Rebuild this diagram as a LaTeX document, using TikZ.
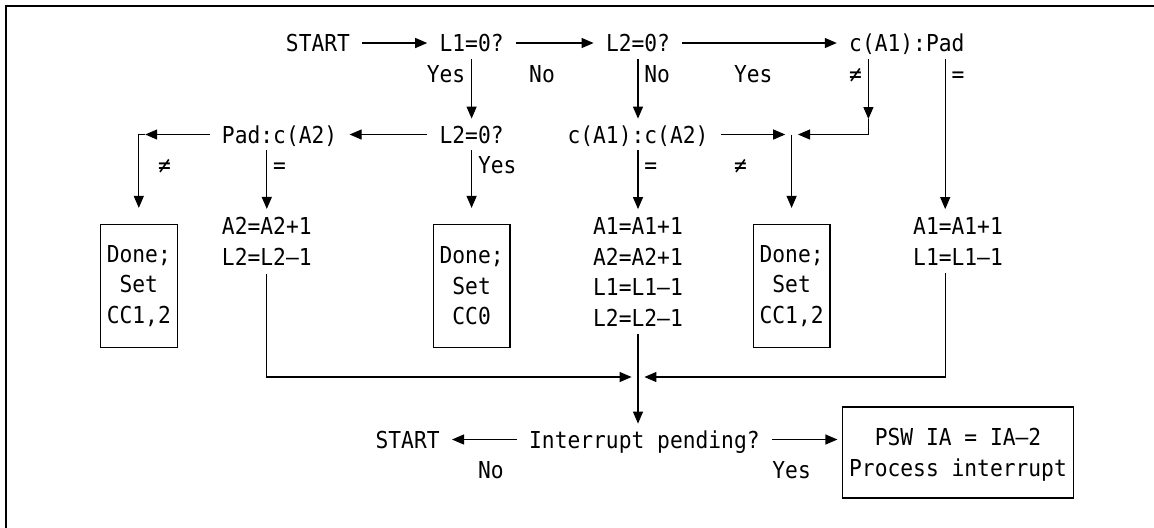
\documentclass[tikz,border=0pt]{standalone}
\usepackage{fontspec}
\newfontfamily\ibmmono[FakeStretch=0.912]{DejaVu Sans Mono}
\usetikzlibrary{arrows.meta}

\tikzset{
  every node/.style={font=\ibmmono\fontsize{11.66}{15.25}\selectfont},
  txt/.style={inner xsep=6pt, inner ysep=1pt, text height=11pt, text depth=2.5pt},
  lbl/.style={inner sep=0pt, text height=11pt, text depth=2.5pt},
  blk/.style={align=center, inner xsep=6pt, inner ysep=4pt},
  donebox/.style={draw, line width=0.6pt, align=center, minimum width=38.4pt, minimum height=61.5pt, inner sep=0pt},
  pswbox/.style={draw, line width=0.6pt, align=center, minimum width=115.2pt, minimum height=45.5pt, inner sep=0pt},
  arr/.style={-{Triangle[length=6pt,width=5pt]}, line width=0.6pt},
}

\begin{document}
\begin{tikzpicture}[x=0.5pt, y=-0.5pt]
        \useasboundingbox (0,0) rectangle (1154,527);
        % frame
        \draw[line width=1pt] (6,540) -- (6,6) -- (1170,6);

        % top row
        \node[txt] (start1) at (318,43) {START};
        \node[txt] (l1) at (471.6,43) {L1=0?};
        \node[txt] (l2a) at (638,43) {L2=0?};
        \node[txt] (cpad) at (906.8,43) {c(A1):Pad};

        % second row
        \node[txt] (padc) at (279.6,134.5) {Pad:c(A2)};
        \node[txt] (l2b) at (471.6,134.5) {L2=0?};
        \node[txt] (cc) at (638,134.5) {c(A1):c(A2)};

        % results
        \node[donebox] (done1) at (138.8,286) {Done;\\Set\\CC1,2};
        \node[blk] (inc2) at (266.8,241.25) {A2=A2+1\\L2=L2–1};
        \node[donebox] (done2) at (471.6,286) {Done;\\Set\\CC0};
        \node[blk] (inc12) at (638,271.75) {A1=A1+1\\A2=A2+1\\L1=L1–1\\L2=L2–1};
        \node[donebox] (done3) at (791.6,286) {Done;\\Set\\CC1,2};
        \node[blk] (inc1) at (958,241.25) {A1=A1+1\\L1=L1–1};

        % bottom row
        \node[txt] (start2) at (407.6,439.5) {START};
        \node[txt] (intr) at (644.4,439.5) {Interrupt pending?};
        \node[pswbox] (psw) at (958,452.5) {PSW IA = IA–2\\\smash{Process interrupt}};

        % branch points
        \coordinate (cNe) at (868.4,119);
        \coordinate (cEq) at (945.2,43);
        \coordinate (j1) at (791.6,134.5);
        \coordinate (nw) at (145.2,134.5);
        \coordinate (m1) at (638,377);

        % labels
        \node[lbl] at (446,73.5) {Yes};
        \node[lbl] at (542,73.5) {No};
        \node[lbl] at (657.2,73.5) {No};
        \node[lbl] at (753.2,73.5) {Yes};
        \node[lbl] at (855.6,73.5) {≠};
        \node[lbl] at (958,73.5) {=};
        \node[lbl] at (164.4,165) {≠};
        \node[lbl] at (279.6,165) {=};
        \node[lbl] at (497.2,165) {Yes};
        \node[lbl] at (650.8,165) {=};
        \node[lbl] at (740.4,165) {≠};
        \node[lbl] at (490.8,470) {No};
        \node[lbl] at (791.6,470) {Yes};

        % arrows
        \draw[arr] (start1) -- (l1);
        \draw[arr] (l1) -- (l2a);
        \draw[arr] (l2a) -- (cpad);
        \draw[arr] (l1) -- (l2b);
        \draw[arr] (l2a) -- (cc);
        \draw[arr] (cpad.south -| cNe) -- (cNe);
        \draw[arr, shorten >=3.2pt] (cNe) |- (j1);
        \draw[arr] (cpad.south -| cEq) -- (inc1.north -| cEq);
        \draw[arr] (l2b) -- (padc);
        \draw[arr] (padc) -- (nw);
        \draw[arr, shorten >=8pt] (nw) -| (done1.north);
        \draw[arr] (padc.south -| inc2.north) -- (inc2.north);
        \draw[arr, shorten >=8pt] (l2b) -- (done2);
        \draw[arr] (cc) -- (inc12);
        \draw[arr, shorten >=3.2pt] (cc) -- (j1);
        \draw[arr, shorten >=8pt] (j1) -- (done3);
        \draw[arr, shorten >=3.2pt] (inc2.south) |- (m1);
        \draw[arr, shorten >=3.2pt] (inc1.south -| cEq) |- (m1);
        \draw[arr] (inc12.south) -- (intr.north -| inc12.south);
        \draw[arr] (intr) -- (start2);
        \draw[arr, shorten >=2.4pt] (intr) -- (intr -| psw.west);
    \end{tikzpicture}
\end{document}
